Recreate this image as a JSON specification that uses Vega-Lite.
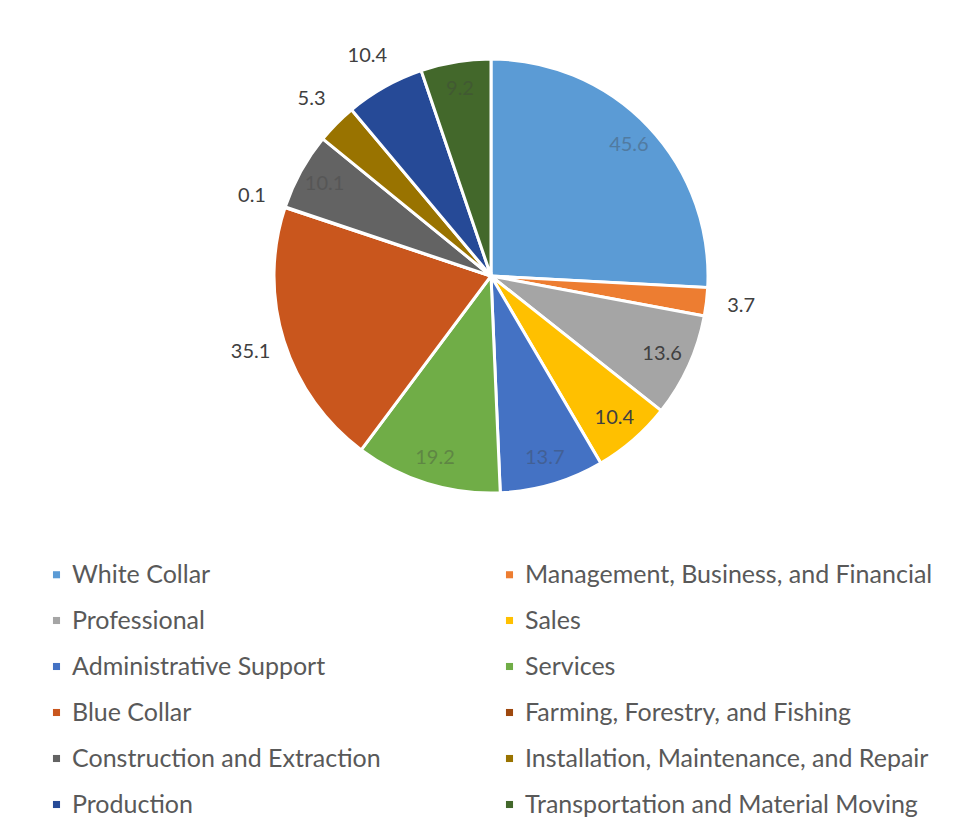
{
  "$schema": "https://vega.github.io/schema/vega-lite/v6.json",
  "width": 924,
  "height": 552,
  "padding": {"left": 29, "top": 0, "right": 0, "bottom": 0},
  "background": "white",
  "data": {
    "values": [
      {"idx": 1, "cat": "White Collar", "value": 45.6},
      {"idx": 2, "cat": "Management, Business, and Financial", "value": 3.7},
      {"idx": 3, "cat": "Professional", "value": 13.6},
      {"idx": 4, "cat": "Sales", "value": 10.4},
      {"idx": 5, "cat": "Administrative Support", "value": 13.7},
      {"idx": 6, "cat": "Services", "value": 19.2},
      {"idx": 7, "cat": "Blue Collar", "value": 35.1},
      {"idx": 8, "cat": "Farming, Forestry, and Fishing", "value": 0.1},
      {"idx": 9, "cat": "Construction and Extraction", "value": 10.1},
      {"idx": 10, "cat": "Installation, Maintenance, and Repair", "value": 5.3},
      {"idx": 11, "cat": "Production", "value": 10.4},
      {"idx": 12, "cat": "Transportation and Material Moving", "value": 9.2}
    ]
  },
  "encoding": {
    "theta": {"field": "value", "type": "quantitative", "stack": true},
    "order": {"field": "idx", "type": "quantitative", "sort": "ascending"}
  },
  "layer": [
    {
      "mark": {"type": "arc", "outerRadius": 217, "stroke": "white", "strokeWidth": 3},
      "encoding": {
        "color": {
          "field": "cat",
          "type": "nominal",
          "scale": {
            "domain": ["White Collar", "Management, Business, and Financial", "Professional", "Sales", "Administrative Support", "Services", "Blue Collar", "Farming, Forestry, and Fishing", "Construction and Extraction", "Installation, Maintenance, and Repair", "Production", "Transportation and Material Moving"],
            "range": ["#5B9BD5", "#ED7D31", "#A5A5A5", "#FFC000", "#4472C4", "#70AD47", "#C9561D", "#9E480E", "#636363", "#997300", "#264A97", "#43682B"]
          },
          "legend": {
            "title": null,
            "orient": "none",
            "direction": "horizontal",
            "legendX": 15,
            "legendY": 562,
            "columns": 2,
            "columnPadding": 116,
            "rowPadding": 20,
            "padding": 0,
            "symbolType": "square",
            "symbolSize": 50,
            "symbolStrokeWidth": 0,
            "labelFont": "Lato",
            "labelFontSize": 25,
            "labelColor": "#595959",
            "labelOffset": 3,
            "labelLimit": 500
          }
        }
      }
    },
    {
      "mark": {"type": "text", "radius": 188, "font": "Lato", "fontSize": 20, "color": "#404040"},
      "encoding": {
        "text": {
          "condition": {"test": "indexof(['Professional','Sales'], datum.cat) >= 0", "field": "value", "type": "quantitative", "format": ".1f"},
          "value": ""
        }
      }
    },
    {
      "mark": {"type": "text", "radius": 190, "font": "Lato", "fontSize": 20, "color": "#404040", "opacity": 0.35},
      "encoding": {
        "text": {
          "condition": {"test": "indexof(['White Collar','Administrative Support','Services','Construction and Extraction','Transportation and Material Moving'], datum.cat) >= 0", "field": "value", "type": "quantitative", "format": ".1f"},
          "value": ""
        }
      }
    },
    {
      "mark": {"type": "text", "radius": 252, "font": "Lato", "fontSize": 20, "color": "#404040"},
      "encoding": {
        "text": {
          "condition": {"test": "indexof(['Management, Business, and Financial','Blue Collar','Farming, Forestry, and Fishing','Installation, Maintenance, and Repair','Production'], datum.cat) >= 0", "field": "value", "type": "quantitative", "format": ".1f"},
          "value": ""
        }
      }
    }
  ],
  "config": {"view": {"stroke": null}}
}
